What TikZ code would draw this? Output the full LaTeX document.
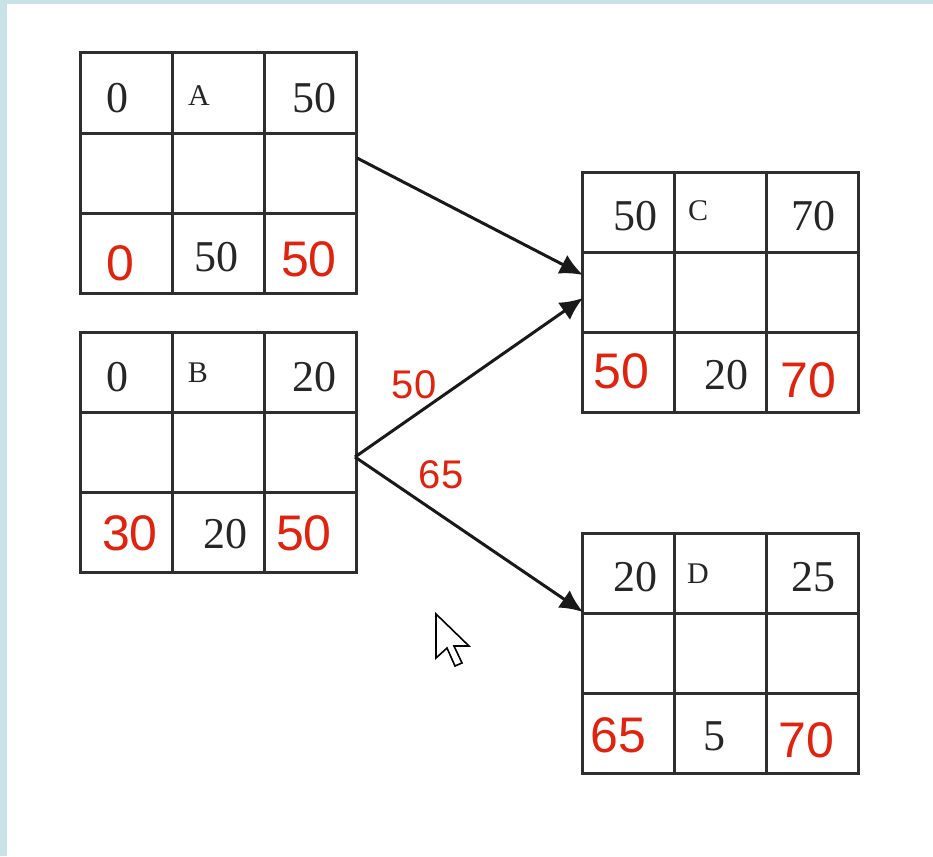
\documentclass[tikz,border=0pt]{standalone}
\usepackage{fontspec}
\setmainfont{Liberation Serif}
\newfontfamily\handfont{Liberation Sans}
\usetikzlibrary{arrows.meta}
\definecolor{frame}{HTML}{C9E2E7}
\definecolor{ink}{HTML}{E0230E}
\definecolor{gridc}{HTML}{2E2E2E}
\tikzset{
  actbox/.style={draw=gridc, line width=3pt, minimum width=276pt, minimum height=240pt, inner sep=0pt},
  gridline/.style={draw=gridc, line width=3pt},
  num/.style={font=\fontsize{44}{44}\selectfont, text=black!85, inner sep=0pt},
  lbl/.style={font=\fontsize{30}{30}\selectfont, text=black!85, inner sep=0pt},
  red/.style={font=\handfont\fontsize{50}{50}\selectfont, text=ink, inner sep=0pt},
  redsmall/.style={font=\handfont\fontsize{40}{40}\selectfont, text=ink, inner sep=0pt},
  arr/.style={line width=3pt, black!90, -{Latex[length=23pt,width=21pt]}},
}
\newcommand\gridbox[3]{% name, left x, top y
  \node[actbox] (#1) at (#2+138,#3+120) {};
  \draw[gridline] (#2+92,#3) -- (#2+92,#3+240);
  \draw[gridline] (#2+184,#3) -- (#2+184,#3+240);
  \draw[gridline] (#2,#3+80) -- (#2+276,#3+80);
  \draw[gridline] (#2,#3+160) -- (#2+276,#3+160);
}
\begin{document}
\begin{tikzpicture}[x=1pt,y=-1pt]
\fill[frame] (0,0) rectangle (933,856);
\fill[white] (7,4) rectangle (933,856);
\useasboundingbox (0,0) rectangle (933,856);

\gridbox{A}{80}{53}
\gridbox{B}{80}{332}
\gridbox{C}{582}{172}
\gridbox{D}{582}{533}

% A
\node[num] (a1) at (117,98) {0};
\node[lbl] (a2) at (199,96) {A};
\node[num] (a3) at (314,98) {50};
\node[red] (a4) at (120,263) {0};
\node[num] (a5) at (216,257) {50};
\node[red] (a6) at (309,259) {50};
% B
\node[num] (b1) at (117,377) {0};
\node[lbl] (b2) at (198,373) {B};
\node[num] (b3) at (314,377) {20};
\node[red] (b4) at (130,533) {30};
\node[num] (b5) at (225,534) {20};
\node[red] (b6) at (304,533) {50};
% C
\node[num] (c1) at (635,216) {50};
\node[lbl] (c2) at (698,211) {C};
\node[num] (c3) at (813,216) {70};
\node[red] (c4) at (621,371) {50};
\node[num] (c5) at (726,375) {20};
\node[red] (c6) at (808,380) {70};
% D
\node[num] (d1) at (635,577) {20};
\node[lbl] (d2) at (698,574) {D};
\node[num] (d3) at (813,577) {25};
\node[red] (d4) at (618,735) {65};
\node[num] (d5) at (714,736) {5};
\node[red] (d6) at (806,740) {70};

% connectors
\coordinate (aout) at (357,158);
\coordinate (bout) at (355,457);
\coordinate (cin1) at (583,275);
\coordinate (cin2) at (583,298);
\coordinate (din) at (583,612);
\draw[arr] (aout) -- (cin1);
\draw[arr] (bout) -- (cin2);
\draw[arr] (bout) -- (din);
\node[redsmall] (l1) at (414,385) {50};
\node[redsmall] (l2) at (441,475) {65};

% mouse cursor
\draw[line width=1.6pt, fill=white, line join=miter]
  (436,614) -- (436,658) -- (447,648) -- (455,666) -- (462,663) -- (454,646) -- (469,646) -- cycle;
\end{tikzpicture}
\end{document}
